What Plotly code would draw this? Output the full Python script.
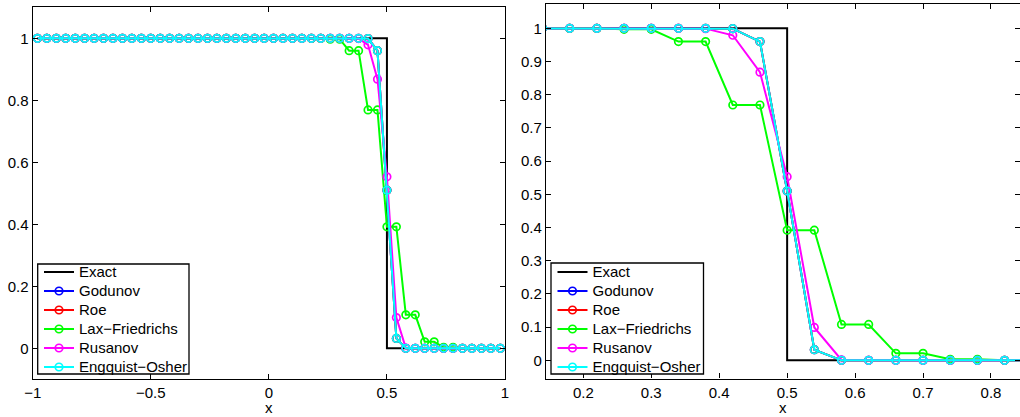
import plotly.graph_objects as go

# ---------------- data ----------------
x_grid = [-0.98, -0.94, -0.90, -0.86, -0.82, -0.78, -0.74, -0.70, -0.66, -0.62,
          -0.58, -0.54, -0.50, -0.46, -0.42, -0.38, -0.34, -0.30, -0.26, -0.22,
          -0.18, -0.14, -0.10, -0.06, -0.02, 0.02, 0.06, 0.10, 0.14, 0.18,
          0.22, 0.26, 0.30, 0.34, 0.38, 0.42, 0.46, 0.50, 0.54, 0.58,
          0.62, 0.66, 0.70, 0.74, 0.78, 0.82, 0.86, 0.90, 0.94, 0.98]

x_exact = [-0.98, 0.5, 0.5, 0.98]
y_exact = [1.0, 1.0, 0.0, 0.0]

godunov = [1.0, 1.0, 1.0, 1.0, 1.0, 1.0, 1.0, 1.0, 1.0, 1.0,
           1.0, 1.0, 1.0, 1.0, 1.0, 1.0, 1.0, 1.0, 1.0, 1.0,
           1.0, 1.0, 1.0, 1.0, 1.0, 1.0, 1.0, 1.0, 1.0, 1.0,
           1.0, 1.0, 1.0, 1.0, 1.0, 0.999, 0.96, 0.51, 0.032, 0.0,
           0.0, 0.0, 0.0, 0.0, 0.0, 0.0, 0.0, 0.0, 0.0, 0.0]
roe = [1.0, 1.0, 1.0, 1.0, 1.0, 1.0, 1.0, 1.0, 1.0, 1.0,
       1.0, 1.0, 1.0, 1.0, 1.0, 1.0, 1.0, 1.0, 1.0, 1.0,
       1.0, 1.0, 1.0, 1.0, 1.0, 1.0, 1.0, 1.0, 1.0, 1.0,
       1.0, 1.0, 1.0, 1.0, 1.0, 0.999, 0.96, 0.51, 0.032, 0.0,
       0.0, 0.0, 0.0, 0.0, 0.0, 0.0, 0.0, 0.0, 0.0, 0.0]
lax_friedrichs = [1.0, 1.0, 1.0, 1.0, 1.0, 1.0, 1.0, 1.0, 1.0, 1.0,
                  1.0, 1.0, 1.0, 1.0, 1.0, 1.0, 1.0, 1.0, 1.0, 1.0,
                  1.0, 1.0, 1.0, 1.0, 1.0, 1.0, 1.0, 1.0, 1.0, 0.9995,
                  0.9995, 0.997, 0.997, 0.96, 0.96, 0.769, 0.769, 0.392, 0.392, 0.108,
                  0.108, 0.021, 0.021, 0.003, 0.003, 0.0, 0.0, 0.0, 0.0, 0.0]
rusanov = [1.0, 1.0, 1.0, 1.0, 1.0, 1.0, 1.0, 1.0, 1.0, 1.0,
           1.0, 1.0, 1.0, 1.0, 1.0, 1.0, 1.0, 1.0, 1.0, 1.0,
           1.0, 1.0, 1.0, 1.0, 1.0, 1.0, 1.0, 1.0, 1.0, 1.0,
           1.0, 1.0, 1.0, 1.0, 0.999, 0.979, 0.868, 0.553, 0.099, 0.001,
           0.0, 0.0, 0.0, 0.0, 0.0, 0.0, 0.0, 0.0, 0.0, 0.0]
engquist_osher = [1.0, 1.0, 1.0, 1.0, 1.0, 1.0, 1.0, 1.0, 1.0, 1.0,
                  1.0, 1.0, 1.0, 1.0, 1.0, 1.0, 1.0, 1.0, 1.0, 1.0,
                  1.0, 1.0, 1.0, 1.0, 1.0, 1.0, 1.0, 1.0, 1.0, 1.0,
                  1.0, 1.0, 1.0, 1.0, 1.0, 0.999, 0.96, 0.51, 0.032, 0.0,
                  0.0, 0.0, 0.0, 0.0, 0.0, 0.0, 0.0, 0.0, 0.0, 0.0]

series_names = ["Godunov", "Roe", "Lax\u2212Friedrichs", "Rusanov", "Engquist\u2212Osher"]
series_values = [godunov, roe, lax_friedrichs, rusanov, engquist_osher]
series_colors = ["#0000ff", "#ff0000", "#00ff00", "#ff00ff", "#00ffff"]

left_xticks = [-1, -0.5, 0, 0.5, 1]
left_xticktext = ["\u22121", "\u22120.5", "0", "0.5", "1"]
left_yticks = [0, 0.2, 0.4, 0.6, 0.8, 1]
left_yticktext = ["0", "0.2", "0.4", "0.6", "0.8", "1"]
right_xticks = [0.2, 0.3, 0.4, 0.5, 0.6, 0.7, 0.8]
right_xticktext = ["0.2", "0.3", "0.4", "0.5", "0.6", "0.7", "0.8"]
right_yticks = [0, 0.1, 0.2, 0.3, 0.4, 0.5, 0.6, 0.7, 0.8, 0.9, 1]
right_yticktext = ["0", "0.1", "0.2", "0.3", "0.4", "0.5", "0.6", "0.7", "0.8", "0.9", "1"]

# ---------------- figure ----------------
FONT = "Liberation Sans, Arial, Helvetica, sans-serif"
W, H = 1020, 417

def lbl(s):
    return '<span style="font-size:15px">' + s + '</span>'

fig = go.Figure()
for xa, ya, leg in [("x", "y", "legend"), ("x2", "y2", "legend2")]:
    fig.add_trace(go.Scatter(x=x_exact, y=y_exact, mode="lines", name=lbl("Exact"),
                             line=dict(color="black", width=2), xaxis=xa, yaxis=ya,
                             legend=leg))
    for nm, vals, col in zip(series_names, series_values, series_colors):
        fig.add_trace(go.Scatter(x=x_grid, y=vals, mode="lines+markers", name=lbl(nm),
                                 line=dict(color=col, width=2),
                                 marker=dict(symbol="circle-open", size=7.5, color=col,
                                             line=dict(width=1.7, color=col)),
                                 xaxis=xa, yaxis=ya, legend=leg))

axis_common = dict(showline=True, linecolor="black", linewidth=1.3, mirror="ticks",
                   ticks="inside", ticklen=5, tickwidth=1, tickcolor="black",
                   showgrid=False, zeroline=False, automargin=False,
                   tickfont=dict(family=FONT, size=15, color="black"))

def px_x(p):
    return p / W

def px_y(p):
    return (H - p) / H

legend_common = dict(xanchor="left", yanchor="bottom", bgcolor="rgba(0,0,0,0)",
                     borderwidth=0, font=dict(family=FONT, size=12, color="black"),
                     tracegroupgap=0)

fig.update_layout(
    template="none",
    width=W, height=H,
    margin=dict(l=0, r=0, t=0, b=0, pad=0),
    paper_bgcolor="white", plot_bgcolor="white",
    font=dict(family=FONT, size=15, color="black"),
    xaxis=dict(domain=[px_x(32.7), px_x(505)], range=[-1, 1], tickvals=left_xticks,
               ticktext=left_xticktext, anchor="y", **axis_common),
    yaxis=dict(domain=[px_y(379.3), px_y(7.3)], range=[-0.1, 1.1],
               tickvals=left_yticks, ticktext=left_yticktext, anchor="x", **axis_common),
    xaxis2=dict(domain=[px_x(546), 1.0], range=[0.1451, 0.8427], tickvals=right_xticks,
                ticktext=right_xticktext, anchor="y2", **axis_common),
    yaxis2=dict(domain=[px_y(378.5), px_y(4)], range=[-0.0548, 1.0732],
                tickvals=right_yticks, ticktext=right_yticktext, anchor="x2", **axis_common),
    legend=dict(x=px_x(39), y=px_y(381.5), **legend_common),
    legend2=dict(x=px_x(552.5), y=px_y(381.5), **legend_common),
    showlegend=True,
    shapes=[
        dict(type="rect", xref="paper", yref="paper", layer="above",
             x0=px_x(37.7), x1=px_x(189), y0=px_y(374), y1=px_y(264),
             fillcolor="white", line=dict(color="black", width=1.3)),
        dict(type="rect", xref="paper", yref="paper", layer="above",
             x0=px_x(551), x1=px_x(703.5), y0=px_y(374), y1=px_y(263),
             fillcolor="white", line=dict(color="black", width=1.3)),
    ],
    annotations=[
        dict(text="x", xref="paper", yref="paper", x=px_x((32.7 + 505) / 2), y=px_y(407.5),
             xanchor="center", yanchor="middle", showarrow=False,
             font=dict(family=FONT, size=15, color="black")),
        dict(text="x", xref="paper", yref="paper", x=px_x((546 + 1020) / 2), y=px_y(407.5),
             xanchor="center", yanchor="middle", showarrow=False,
             font=dict(family=FONT, size=15, color="black")),
    ],
)

fig.write_html("out.html",
               config={"displayModeBar": False},
               post_script="document.body.style.margin='0px';"
                           "document.body.style.overflow='hidden';")
